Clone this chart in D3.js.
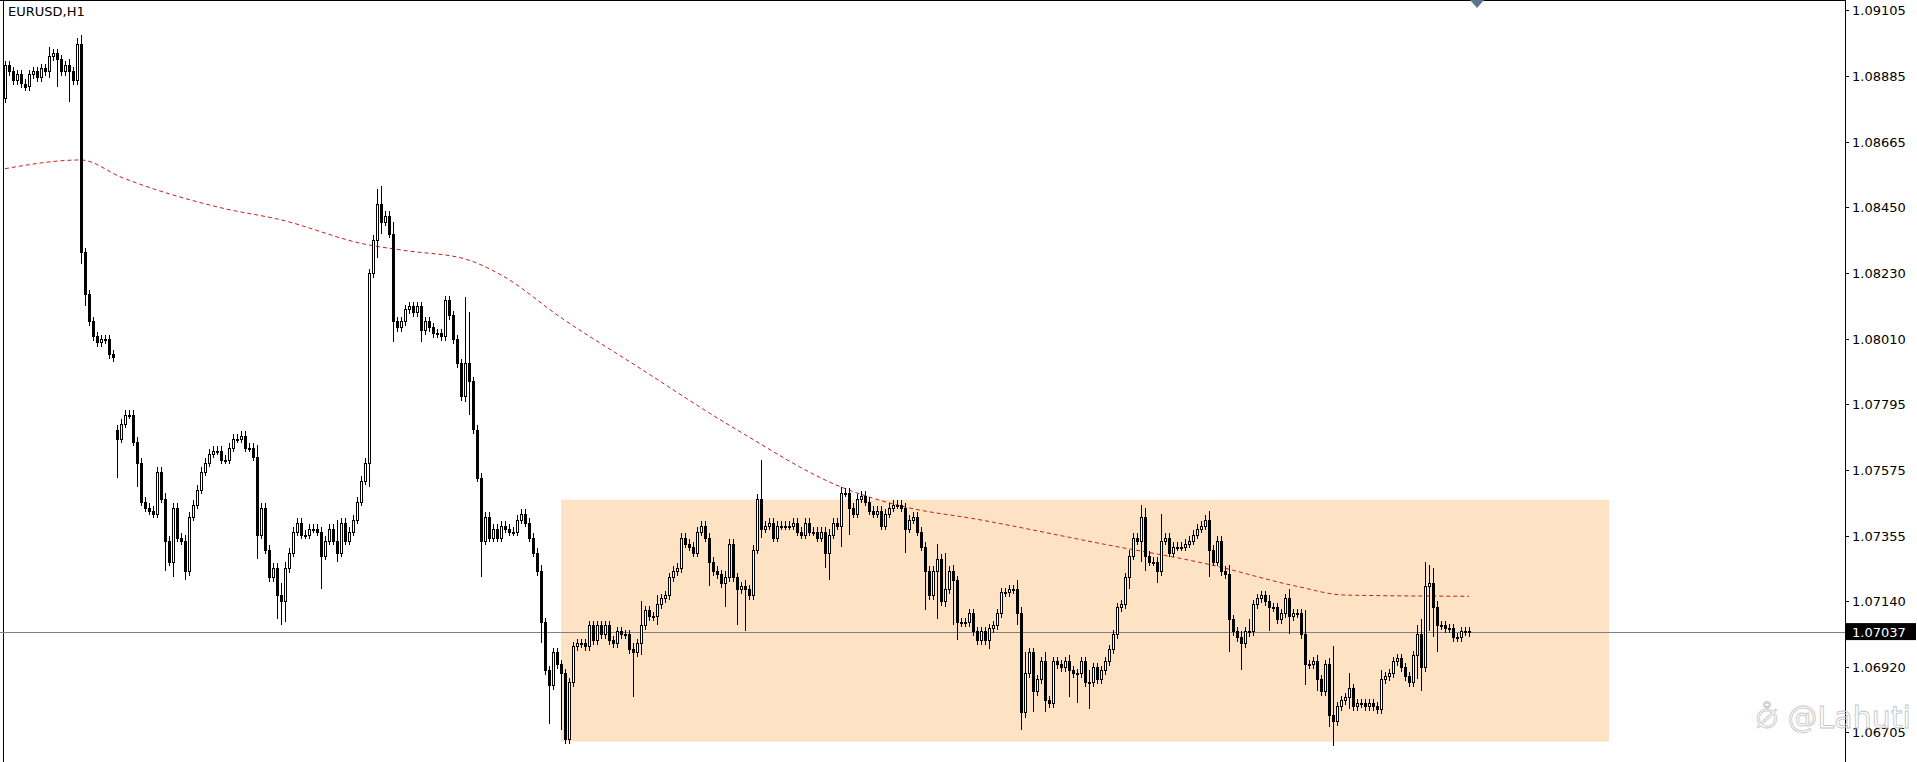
<!DOCTYPE html>
<html lang="en">
<head>
<meta charset="UTF-8">
<title>EURUSD,H1</title>
<script src="https://d3js.org/d3.v7.min.js"></script>
<style>
  body { margin: 0; background: #fff; }
  text { font-family: "DejaVu Sans", Tahoma, sans-serif; }
</style>
</head>
<body>
<svg></svg>
<script>
    const w = 1917;
    const h = 762;

    // prices are stored as pips above 1.06000 (price = 1.06 + pip / 10000)
    const base = 1.06;
    const firstOpen = 281;
    const closes = [
        292, 290, 287, 289, 286, 285, 289, 290, 288, 291, 290, 295, 296, 294, 290, 292, 290, 287, 299, 230,
        216, 207, 202, 200, 201, 201, 196, 195, 168, 173, 176, 176, 167, 160, 147, 145, 144, 143, 157, 148,
        134, 127, 145, 135, 134, 124, 142, 146, 151, 157, 160, 163, 164, 164, 161, 161, 165, 168, 168, 169,
        165, 165, 162, 136, 145, 131, 122, 125, 116, 114, 125, 130, 137, 140, 136, 136, 138, 138, 137, 129,
        134, 138, 134, 130, 140, 134, 137, 141, 147, 154, 160, 223, 234, 246, 240, 242, 236, 207, 205, 207,
        211, 212, 210, 212, 204, 207, 205, 203, 203, 202, 214, 209, 201, 193, 182, 193, 187, 171, 155, 134,
        142, 135, 138, 135, 139, 138, 137, 137, 141, 143, 140, 135, 130, 124, 107, 91, 86, 97, 93, 90,
        68, 87, 99, 100, 100, 99, 106, 101, 106, 103, 106, 101, 100, 104, 103, 103, 98, 97, 100, 106,
        111, 109, 109, 113, 115, 116, 122, 124, 125, 135, 133, 132, 130, 137, 139, 135, 127, 124, 123, 120,
        122, 133, 122, 118, 119, 118, 116, 131, 148, 138, 139, 140, 135, 139, 139, 139, 139, 140, 137, 136,
        140, 137, 137, 135, 137, 130, 136, 140, 139, 150, 150, 145, 143, 148, 149, 147, 144, 143, 144, 139,
        143, 145, 146, 146, 145, 138, 141, 142, 137, 132, 124, 116, 124, 128, 114, 118, 124, 121, 107, 107,
        107, 110, 104, 101, 104, 101, 105, 106, 110, 117, 117, 118, 118, 110, 77, 90, 97, 84, 88, 94,
        81, 80, 94, 93, 92, 94, 91, 90, 90, 94, 87, 87, 92, 88, 91, 94, 98, 103, 112, 113,
        122, 129, 135, 134, 142, 129, 127, 127, 124, 134, 135, 130, 132, 132, 132, 133, 134, 136, 138, 139,
        141, 131, 127, 134, 124, 123, 108, 104, 102, 100, 104, 104, 113, 115, 116, 114, 112, 112, 108, 110,
        115, 109, 110, 110, 103, 93, 93, 94, 88, 84, 93, 76, 74, 79, 81, 82, 85, 79, 80, 80,
        79, 80, 79, 78, 88, 89, 90, 94, 95, 92, 89, 87, 96, 103, 92, 119, 120, 112, 106, 106,
        105, 105, 102, 102, 104, 104, 103.7
    ];
    // candles whose open does not follow the previous close (weekend gap)
    const gapOpens = [[28, 171]];
    // notable wick extremes: [candle, high, low]
    const wicks = [
        [11, 298, 288], [13, 297, 285], [16, 294, 280], [18, 301, 290], [19, 302, 226],
        [20, 231, 212], [28, 172, 155], [33, 168, 152], [40, 150, 124], [42, 146, 122],
        [45, 136, 121], [63, 166, 128], [68, 126, 108], [69, 120, 106], [70, 127, 107],
        [79, 137, 118], [83, 141, 127], [91, 224, 152], [93, 251, 228], [94, 252, 236],
        [97, 240, 200], [104, 213, 200], [115, 215, 180], [116, 210, 176], [119, 156, 122],
        [134, 126, 100], [136, 92, 73], [139, 93, 71], [140, 91, 67], [141, 88, 67],
        [157, 100, 82], [159, 114, 96], [163, 116, 106], [176, 134, 119], [180, 124, 112],
        [183, 121, 106], [185, 121, 104], [189, 161, 135], [205, 137, 125], [206, 138, 121],
        [209, 152, 132], [211, 151, 136], [225, 146, 130], [230, 131, 111], [233, 133, 108],
        [235, 130, 112], [237, 126, 106], [238, 121, 101], [246, 106, 98], [253, 121, 106],
        [254, 112, 71], [255, 97, 75], [257, 97, 77], [260, 97, 77], [266, 96, 82],
        [268, 91, 80], [271, 91, 78], [281, 131, 118], [284, 146, 127], [285, 145, 124],
        [288, 127, 120], [289, 143, 124], [301, 144, 122], [306, 126, 97], [309, 104, 91],
        [311, 108, 102], [316, 116, 104], [321, 118, 103], [325, 111, 86], [328, 96, 84],
        [331, 95, 72], [332, 99, 66], [336, 90, 78], [344, 91, 77], [353, 106, 88],
        [354, 108, 84], [355, 127, 94], [356, 126, 104], [357, 125, 102], [358, 114, 97]
    ];
    // moving average, read at a few candles
    const maIdx = [0, 19, 29, 54, 69, 90, 100, 115, 124, 139, 158, 182, 210, 225, 243, 274, 301, 323, 335, 366];
    const maVal = [257.7, 260.6, 254.9, 244.7, 240.7, 232.6, 230.5, 227.7, 222.4, 208.2, 192, 171.7, 151.4, 145.3, 141.2, 133.1, 126.2, 118.9, 116, 115.6];

    const ticks = [1.09105, 1.08885, 1.08665, 1.08450, 1.08230, 1.08010, 1.07795, 1.07575, 1.07355, 1.07140, 1.06920, 1.06705];
    const lastPrice = 1.07037;
    const zoneFrom = 139, zoneTo = 401;
    const zoneTop = 1.07477, zoneBottom = 1.06673;

    const opens = closes.map((c, i) => i === 0 ? firstOpen : closes[i - 1]);
    gapOpens.forEach(([i, o]) => opens[i] = o);
    const highs = closes.map((c, i) => Math.max(c, opens[i]) + 1.5);
    const lows = closes.map((c, i) => Math.min(c, opens[i]) - 1.5);
    wicks.forEach(([i, hi, lo]) => { highs[i] = Math.max(highs[i], hi); lows[i] = Math.min(lows[i], lo); });

    const candles = closes.map((c, i) => ({
        i, o: base + opens[i] / 1e4, c: base + c / 1e4,
        hi: base + highs[i] / 1e4, lo: base + lows[i] / 1e4
    }));

    const axisX = 1845;
    const x = d3.scaleLinear().domain([0, 366]).range([5, 1469]);
    const y = d3.scaleLinear().domain([1.06705, 1.09105]).range([732, 9.8]);

    const svg = d3.select("svg").attr("width", w).attr("height", h);

    // frame
    svg.append("rect").attr("x", 0).attr("y", 0).attr("width", w).attr("height", h).attr("fill", "#fff");
    svg.append("line").attr("x1", 3.5).attr("x2", 3.5).attr("y1", 0).attr("y2", h).attr("stroke", "#000");
    svg.append("line").attr("x1", 0).attr("x2", axisX).attr("y1", 0.5).attr("y2", 0.5).attr("stroke", "#000");

    // zone
    svg.append("rect")
        .attr("x", x(zoneFrom)).attr("width", x(zoneTo) - x(zoneFrom))
        .attr("y", y(zoneTop)).attr("height", y(zoneBottom) - y(zoneTop))
        .attr("fill", "#fde3c4");

    // last price line
    svg.append("line")
        .attr("x1", 0).attr("x2", axisX).attr("y1", Math.round(y(lastPrice)) + 0.5).attr("y2", Math.round(y(lastPrice)) + 0.5)
        .attr("stroke", "#808080").attr("stroke-width", 1);

    // moving average
    const ma = maIdx.map((d, k) => [d, base + maVal[k] / 1e4]);
    svg.append("path").datum(ma)
        .attr("fill", "none").attr("stroke", "#c81e1e").attr("stroke-width", 1)
        .attr("stroke-dasharray", "4,3")
        .attr("d", d3.line().x(d => x(d[0])).y(d => y(d[1])).curve(d3.curveMonotoneX));

    // candles
    const g = svg.append("g").attr("shape-rendering", "crispEdges");
    g.selectAll("line.wick").data(candles).enter().append("line")
        .attr("x1", d => Math.round(x(d.i)) + 0.5).attr("x2", d => Math.round(x(d.i)) + 0.5)
        .attr("y1", d => y(d.hi)).attr("y2", d => y(d.lo))
        .attr("stroke", "#000").attr("stroke-width", 1);
    g.selectAll("rect.body").data(candles).enter().append("rect")
        .attr("x", d => Math.round(x(d.i)) - 0.5)
        .attr("width", 2)
        .attr("y", d => Math.round(y(Math.max(d.o, d.c))) + 0.5)
        .attr("height", d => Math.max(1, Math.round(Math.abs(y(d.o) - y(d.c)))))
        .attr("fill", d => d.c < d.o ? "#000" : "#fff")
        .attr("stroke", "#000").attr("stroke-width", 1);

    // price axis
    svg.append("line").attr("x1", axisX + 0.5).attr("x2", axisX + 0.5).attr("y1", 0).attr("y2", h)
        .attr("stroke", "#000");
    const ax = svg.append("g");
    ticks.forEach(t => {
        ax.append("line").attr("x1", axisX).attr("x2", axisX + 4)
            .attr("y1", Math.round(y(t)) + 0.5).attr("y2", Math.round(y(t)) + 0.5).attr("stroke", "#000");
        ax.append("text").attr("x", axisX + 7).attr("y", y(t) + 5)
            .attr("font-size", 13).attr("fill", "#000").text(t.toFixed(5));
    });
    svg.append("rect").attr("x", axisX + 1).attr("y", y(lastPrice) - 9).attr("width", 70).attr("height", 17)
        .attr("fill", "#000");
    svg.append("text").attr("x", axisX + 7).attr("y", y(lastPrice) + 5)
        .attr("font-size", 13).attr("fill", "#fff").text(lastPrice.toFixed(5));

    // title and marker
    svg.append("text").attr("x", 8).attr("y", 16).attr("font-size", 13).attr("fill", "#000").text("EURUSD,H1");
    svg.append("path").attr("d", "M1470,0 L1484,0 L1477,8 Z").attr("fill", "#5d7390");

    // watermark
    svg.append("text").attr("x", 1756).attr("y", 728).attr("font-size", 30)
        .attr("fill", "none").attr("stroke", "#c4c4c4").attr("stroke-width", 0.8)
        .text("⦲ @Lahuti");
</script>
</body>
</html>
